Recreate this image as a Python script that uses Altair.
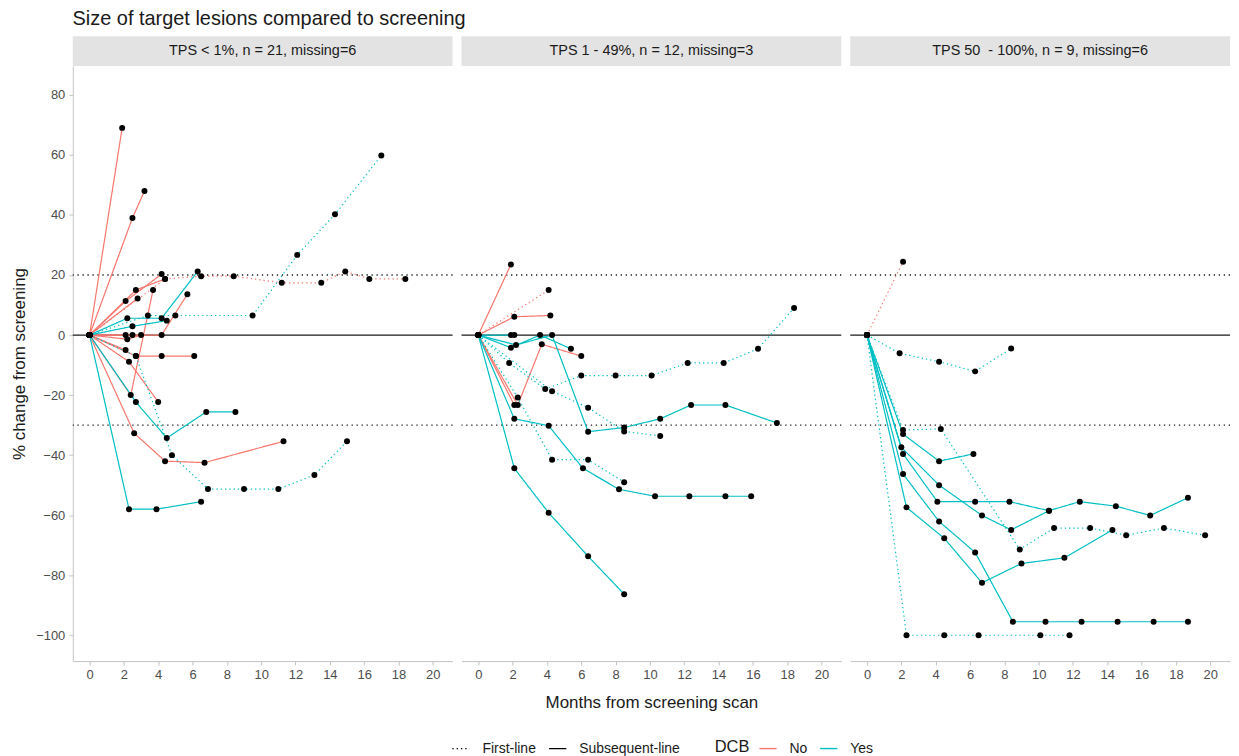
import altair as alt
import pandas as pd

# ---------------- data ----------------
PANEL_TITLES = [
    "TPS < 1%, n = 21, missing=6",
    "TPS 1 - 49%, n = 12, missing=3",
    "TPS 50\u00a0 - 100%, n = 9, missing=6",
]

# Panel 1: TPS < 1%
P1_DCB = ["No", "No", "No", "No", "No", "No", "No", "No", "No", "No", "No", "No", "No", "No",
          "Yes", "Yes", "Yes", "Yes", "Yes", "Yes"]
P1_LINE = ["Subsequent-line", "Subsequent-line", "Subsequent-line", "Subsequent-line", "Subsequent-line",
           "First-line", "Subsequent-line", "Subsequent-line", "Subsequent-line", "Subsequent-line",
           "Subsequent-line", "Subsequent-line", "Subsequent-line", "Subsequent-line",
           "Subsequent-line", "First-line", "Subsequent-line", "First-line", "Subsequent-line", "Subsequent-line"]
P1_MONTHS = [
    [0, 1.9], [0, 2.5, 3.2], [0, 2.4, 3.7], [0, 2.1, 4.2], [0, 2.7, 4.4],
    [0, 4.4, 6.5, 8.4, 11.2, 13.5, 14.9, 16.3, 18.4],
    [0, 4.2, 5.7], [0, 2.8], [0, 2.7, 4.2, 6.1], [0, 2.3, 4.0],
    [0, 2.6, 4.4, 6.7, 11.3], [0, 2.1, 2.5], [0, 2.2, 3.0], [0, 2.1],
    [0, 2.3, 3.9, 6.5], [0, 2.7, 4.8, 6.9, 9.0, 11.0, 13.1, 15.0],
    [0, 2.7, 4.5, 6.8, 8.5], [0, 3.4, 5.0, 9.5, 12.1, 14.3, 17.0],
    [0, 2.2, 4.2, 6.3], [0, 2.5, 4.5],
]
P1_CHANGE = [
    [0, 69], [0, 39, 48], [0, -20, 15], [0, 11.3, 20.3], [0, 15, 18.7],
    [0, 18.7, 19.6, 19.6, 17.4, 17.4, 21.2, 18.7, 18.7],
    [0, 0, 13.6], [0, 12.2], [0, -7, -7, -7], [0, -8.9, -22.3],
    [0, -32.7, -42, -42.5, -35.4], [0, 0, 0], [0, -1.4, 0], [0, -5],
    [0, -58, -58, -55.5], [0, -7, -40, -51.3, -51.3, -51.3, -46.6, -35.4],
    [0, -22.3, -34.3, -25.6, -25.6], [0, 6.5, 6.5, 6.5, 26.7, 40.2, 59.8],
    [0, 5.6, 5.6, 21.2], [0, 2.9, 4.8],
]

# Panel 2: TPS 1 - 49%
P2_DCB = ["No", "No", "No", "No", "No", "Yes", "Yes", "Yes", "Yes", "Yes", "Yes", "Yes", "Yes"]
P2_LINE = ["Subsequent-line", "First-line", "Subsequent-line", "Subsequent-line", "Subsequent-line",
           "Subsequent-line", "Subsequent-line", "Subsequent-line", "Subsequent-line", "Subsequent-line",
           "First-line", "First-line", "First-line"]
P2_MONTHS = [
    [0, 1.9], [0, 4.1], [0, 2.1, 4.2], [0, 2.3, 3.7, 6.0], [0, 2.1],
    [0, 2.1, 4.1, 6.4, 8.5],
    [0, 2.1, 4.1, 6.1, 8.2, 10.3, 12.3, 14.4, 15.9],
    [0, 2.2, 4.3, 6.4, 8.5, 10.6, 12.4, 14.4, 17.4],
    [0, 1.9, 3.6, 5.4], [0, 1.9, 2.1],
    [0, 1.8, 3.9, 6.0, 8.0, 10.1, 12.2, 14.3, 16.3, 18.4],
    [0, 4.3, 6.4, 8.5, 10.6],
    [0, 2.3, 4.3, 6.4, 8.5],
]
P2_CHANGE = [
    [0, 23.5], [0, 15], [0, 6.1, 6.5], [0, -23.3, -3.1, -7], [0, -23.3],
    [0, -44.4, -59.2, -73.7, -86.3],
    [0, -27.9, -30.2, -44.4, -51.4, -53.7, -53.7, -53.7, -53.7],
    [0, -3.3, 0, -32.2, -30.8, -27.9, -23.3, -23.3, -29.3],
    [0, -4.2, 0, -4.6], [0, 0, 0],
    [0, -9.3, -18, -13.5, -13.5, -13.5, -9.3, -9.3, -4.6, 9],
    [0, -18.7, -24.2, -32.1, -33.6],
    [0, -20.8, -41.5, -41.5, -49],
]

# Panel 3: TPS 50 - 100%
P3_DCB = ["No", "Yes", "Yes", "Yes", "Yes", "Yes", "Yes", "Yes", "Yes"]
P3_LINE = ["First-line", "First-line", "First-line", "First-line",
           "Subsequent-line", "Subsequent-line", "Subsequent-line", "Subsequent-line", "Subsequent-line"]
P3_MONTHS = [
    [0, 2.1], [0, 1.9, 4.2, 6.3, 8.4], [0, 2.3, 4.5, 6.5, 10.1, 11.8],
    [0, 2.1, 4.3, 8.9, 10.9, 13.0, 15.1, 17.3, 19.7],
    [0, 2.1, 4.2, 6.2],
    [0, 2.1, 4.1, 6.3, 8.3, 10.6, 12.4, 14.5, 16.5, 18.7],
    [0, 2.0, 4.2, 6.7, 8.4, 10.6],
    [0, 2.1, 4.2, 6.3, 8.5, 10.4, 12.5, 14.6, 16.7, 18.7],
    [0, 2.3, 4.5, 6.7, 9.0, 11.5, 14.3],
]
P3_CHANGE = [
    [0, 24.4], [0, -6.1, -8.9, -12.1, -4.5], [0, -100, -100, -100, -100, -100],
    [0, -31.6, -31.3, -71.4, -64.3, -64.3, -66.7, -64.3, -66.7],
    [0, -33, -42, -39.6],
    [0, -39.6, -55.5, -55.5, -55.5, -58.5, -55.5, -57, -60.1, -54.2],
    [0, -37.4, -50, -60.1, -64.9, -58.5],
    [0, -46.3, -62.1, -72.4, -95.5, -95.5, -95.5, -95.5, -95.5, -95.5],
    [0, -57.4, -67.7, -82.5, -76.1, -74.2, -64.9],
]

REF_SOLID = [0]
REF_DOTTED = [20, -30]
X_TICKS = [0, 2, 4, 6, 8, 10, 12, 14, 16, 18, 20]
Y_TICKS = [-100, -80, -60, -40, -20, 0, 20, 40, 60, 80]
DCB_LEVELS = ["No", "Yes"]
DCB_COLORS = ["#F8766D", "#00BFC4"]
LINE_LEVELS = ["First-line", "Subsequent-line"]

# ---------------- build table ----------------
rows = []
panels = [(P1_DCB, P1_LINE, P1_MONTHS, P1_CHANGE),
          (P2_DCB, P2_LINE, P2_MONTHS, P2_CHANGE),
          (P3_DCB, P3_LINE, P3_MONTHS, P3_CHANGE)]
for pi, (dcb, line, months, change) in enumerate(panels):
    for k in range(len(dcb)):
        for m, v in zip(months[k], change[k]):
            rows.append({"panel": pi, "pid": f"{pi}-{k}", "DCB": dcb[k], "line": line[k],
                         "month": m, "change": v})
df = pd.DataFrame(rows)

W, H = 381, 597
FONT = "Liberation Sans"
AX_GREY = "#c4c4c4"
xscale = alt.Scale(domain=[-0.977, 21.15], nice=False, zero=False)
yscale = alt.Scale(domain=[-108.6, 89.6], nice=False, zero=False)


def make_panel(i):
    d = df[df["panel"] == i]
    xaxis = alt.Axis(values=X_TICKS, title="Months from screening scan" if i == 1 else "",
                     grid=False, domainColor=AX_GREY, tickColor=AX_GREY, tickSize=4,
                     labelColor="#4d4d4d", labelFontSize=13, labelPadding=3,
                     titleFontSize=17, titleFontWeight="normal", titleColor="#1a1a1a",
                     titlePadding=14)
    if i == 0:
        yaxis = alt.Axis(values=Y_TICKS, title="% change from screening", grid=False,
                         domainColor=AX_GREY, tickColor=AX_GREY, tickSize=4,
                         labelColor="#4d4d4d", labelFontSize=13, labelPadding=4,
                         titleFontSize=17, titleFontWeight="normal", titleColor="#1a1a1a",
                         titlePadding=7)
    else:
        yaxis = alt.Axis(values=Y_TICKS, title="", labels=False, ticks=False, domain=False, grid=False)
    x = alt.X("month:Q", scale=xscale, axis=xaxis)
    y = alt.Y("change:Q", scale=yscale, axis=yaxis)

    strip_df = pd.DataFrame({"t": [PANEL_TITLES[i]]})
    strip = alt.Chart(strip_df).mark_rect(color="#e3e3e3").encode(
        x=alt.value(0), x2=alt.value(W), y=alt.value(-30), y2=alt.value(0))
    strip_text = alt.Chart(strip_df).mark_text(fontSize=14.5, color="#1a1a1a", font=FONT).encode(
        x=alt.value(W / 2), y=alt.value(-15), text="t:N")

    solid = alt.Chart(pd.DataFrame({"v": REF_SOLID})).mark_rule(color="#1a1a1a", strokeWidth=1.2).encode(
        y=alt.Y("v:Q", scale=yscale, axis=yaxis))
    dotted = alt.Chart(pd.DataFrame({"v": REF_DOTTED})).mark_rule(
        color="#1a1a1a", strokeWidth=1.3, strokeDash=[1.3, 3.7]).encode(
        y=alt.Y("v:Q", scale=yscale, axis=yaxis))

    lines = alt.Chart(d).mark_line(strokeWidth=1.2).encode(
        x=x, y=y,
        color=alt.Color("DCB:N", scale=alt.Scale(domain=DCB_LEVELS, range=DCB_COLORS),
                        legend=alt.Legend(title="DCB", orient="none", direction="horizontal",
                                          titleOrient="left", legendX=644, legendY=675,
                                          titleFontSize=16.5, titleFontWeight="normal",
                                          titleColor="#1a1a1a", labelFontSize=14,
                                          labelColor="#1a1a1a", symbolType="stroke",
                                          symbolSize=300, symbolStrokeWidth=1.4,
                                          columnPadding=10, labelOffset=12, titlePadding=9)),
        strokeDash=alt.StrokeDash("line:N",
                                  scale=alt.Scale(domain=LINE_LEVELS, range=[[1.3, 3], [1, 0]]),
                                  legend=alt.Legend(title=None, orient="none", direction="horizontal",
                                                    legendX=380, legendY=675, labelFontSize=14,
                                                    labelColor="#1a1a1a", symbolType="stroke",
                                                    symbolStrokeColor="black", symbolSize=300,
                                                    symbolStrokeWidth=1.3, columnPadding=10,
                                                    labelOffset=12)),
        detail="pid:N",
        order="month:Q",
    )
    pts = alt.Chart(d).mark_circle(size=36, color="black", opacity=1).encode(x=x, y=y)

    return alt.layer(strip, strip_text, solid, dotted, lines, pts).properties(width=W, height=H)


chart = alt.hconcat(make_panel(0), make_panel(1), make_panel(2), spacing=7).properties(
    title=alt.TitleParams("Size of target lesions compared to screening", anchor="start",
                          fontSize=20, fontWeight="normal", color="#1a1a1a", font=FONT,
                          offset=7, dx=62),
    padding={"left": 2, "top": 0, "right": 0, "bottom": 0},
).configure(font=FONT).configure_view(stroke=None).configure_axis(labelFont=FONT, titleFont=FONT)

chart.save("out.html", embed_options={"renderer": "svg", "actions": False})
